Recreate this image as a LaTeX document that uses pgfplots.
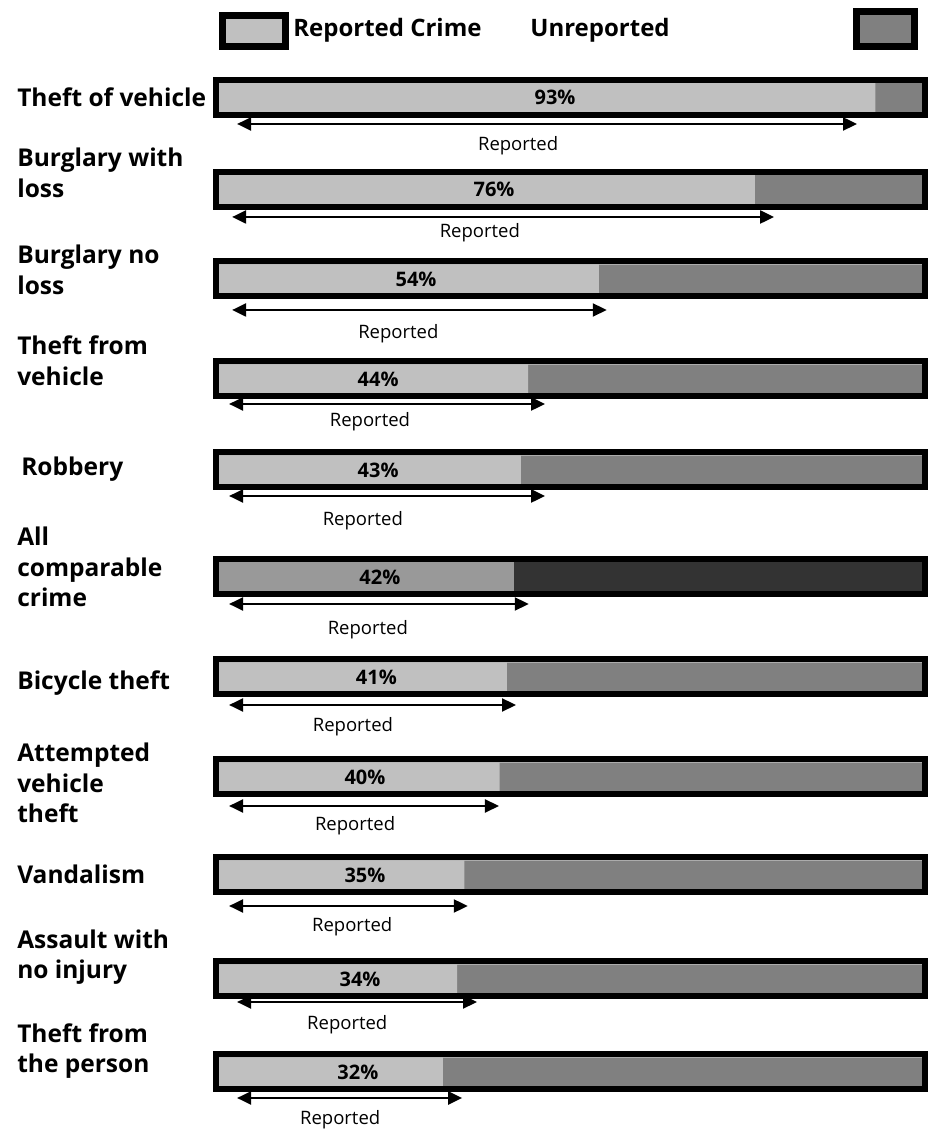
\documentclass[border=0pt]{standalone}
\usepackage{fontspec}
\setmainfont{Open Sans}
\usepackage{pgfplots}
\pgfplotsset{compat=1.18}
\usepackage{pgfplotstable}
\usetikzlibrary{arrows.meta}
\definecolor{repgray}{HTML}{C0C0C0}
\definecolor{unrepgray}{HTML}{808080}
\definecolor{allrep}{HTML}{999999}
\definecolor{allunrep}{HTML}{333333}

% y = bar centre (pixels from top, negative), val = % reported
\pgfplotstableread{
y      val  px    repx  repy
-97.5  93   47.8  42.6  -146
-189.5 76   39.2  37.2  -233
-279   54   28.2  25.7  -334
-379   44   22.85 21.7  -422
-470   43   22.85 20.7  -521
-577   42   23.1  21.4  -630
-677   41   22.6  19.3  -727
-777   40   21.0  19.6  -826
-875   35   21.0  19.2  -927
-979   34   20.3  18.5  -1025
-1072  32   20.0  17.5  -1120
}\data

\begin{document}
\begin{tikzpicture}
\begin{axis}[
  scale only axis,
  width=930pt, height=1133pt,
  xmin=-30.465, xmax=100.705,
  ymin=-1133, ymax=0,
  clip=false,
  axis line style={draw=none},
  major tick length=0pt,
  xtick=\empty,
  ytick={-97,-173,-270,-361,-469,-567,-683,-783,-874,-957,-1051},
  yticklabels={{Theft of vehicle},{Burglary with\\loss},{Burglary no\\loss},{Theft from\\vehicle},{\hspace*{4pt}Robbery},{All\\comparable\\crime},{Bicycle theft},{Attempted\\vehicle\\theft},{Vandalism},{Assault with\\no injury},{Theft from\\the person}},
  yticklabel style={anchor=west, align=left, inner sep=0pt, xshift=17pt,
    font=\fontsize{24.5}{30.5}\selectfont\bfseries},
  /pgf/number format/assume math mode=true,
]
% unreported (full bar) and reported segments
\addplot[xbar, bar shift=0pt, bar width=29pt, fill=unrepgray, draw=none]
  table[x expr=100, y=y] {\data};
\addplot[xbar, bar shift=0pt, bar width=29pt, fill=repgray, draw=none]
  table[x=val, y=y] {\data};
% all comparable crime (darker)
\addplot[xbar, bar shift=0pt, bar width=29pt, fill=allunrep, draw=none]
  coordinates {(100,-577)};
\addplot[xbar, bar shift=0pt, bar width=29pt, fill=allrep, draw=none]
  coordinates {(42,-577)};
% thick black outlines
\addplot[xbar, bar shift=0pt, bar width=35pt, fill=none, draw=black, line width=6pt]
  table[x expr=100, y=y] {\data};
% percentage labels
\addplot[draw=none, mark=none, point meta=explicit,
  nodes near coords={\pgfmathprintnumber{\pgfplotspointmeta}\%},
  nodes near coords align={center},
  every node near coord/.append style={font=\fontsize{20}{24}\selectfont\bfseries, inner sep=0pt}]
  table[x=px, y=y, meta=val] {\data};
% "Reported" labels
\addplot[draw=none, mark=none,
  nodes near coords={Reported},
  nodes near coords align={center},
  every node near coord/.append style={font=\fontsize{18.5}{22}\selectfont, inner sep=0pt}]
  table[x=repx, y=repy] {\data};
% arrows
\tikzset{rarrow/.style={line width=2.2pt, black,
  {Triangle[length=14pt,width=13pt]}-{Triangle[length=14pt,width=13pt]}}}
\addplot[rarrow] coordinates {(2.96,-124) (90.4,-124)};
\addplot[rarrow] coordinates {(2.26,-217) (78.7,-217)};
\addplot[rarrow] coordinates {(2.26,-310) (55.1,-310)};
\addplot[rarrow] coordinates {(1.83,-404) (46.4,-404)};
\addplot[rarrow] coordinates {(1.83,-496) (46.4,-496)};
\addplot[rarrow] coordinates {(1.83,-604) (44.1,-604)};
\addplot[rarrow] coordinates {(1.83,-705) (42.3,-705)};
\addplot[rarrow] coordinates {(1.83,-806) (39.9,-806)};
\addplot[rarrow] coordinates {(1.83,-906) (35.5,-906)};
\addplot[rarrow] coordinates {(2.96,-1002) (36.8,-1002)};
\addplot[rarrow] coordinates {(2.96,-1098) (34.7,-1098)};
% legend
\draw[line width=7pt, fill=repgray] (axis cs:0.92,-15.5) rectangle (axis cs:9.80,-46.5);
\draw[line width=7pt, fill=unrepgray] (axis cs:90.3,-11.5) rectangle (axis cs:98.5,-46.5);
\node[anchor=west, inner sep=0pt, font=\fontsize{24}{28}\selectfont\bfseries] at (axis cs:10.86,-30) {Reported Crime};
\node[anchor=west, inner sep=0pt, font=\fontsize{24}{28}\selectfont\bfseries] at (axis cs:44.3,-30) {Unreported};
\end{axis}
\end{tikzpicture}
\end{document}
